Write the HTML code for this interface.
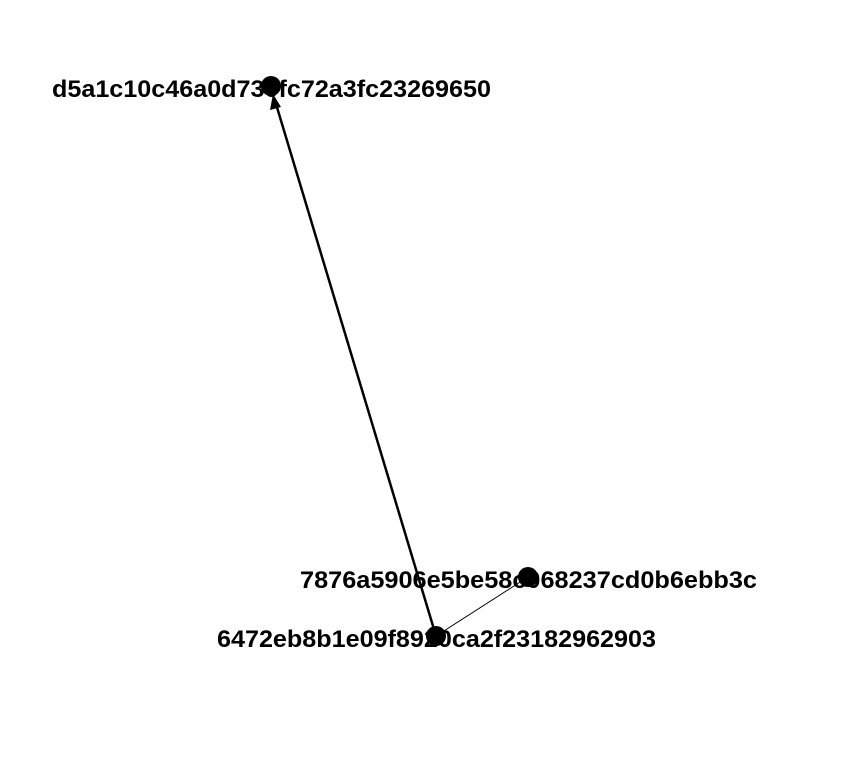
<!DOCTYPE html>
<html><head><style>body{margin:0;background:#fff}svg{display:block}</style></head>
<body>
<svg width="854" height="768" xmlns="http://www.w3.org/2000/svg">
<rect width="854" height="768" fill="#fff"/>
<line x1="436" y1="636" x2="276" y2="104" stroke="#000" stroke-width="2.5"/>
<polygon points="273,94 270,110 281,107" fill="#000"/>
<line x1="436" y1="636" x2="528" y2="577" stroke="#000" stroke-width="1"/>
<g font-family="Liberation Sans, Arial, sans-serif" font-weight="bold" font-size="24" fill="#000">
<text x="52" y="97" textLength="439" lengthAdjust="spacingAndGlyphs">d5a1c10c46a0d730fc72a3fc23269650</text>
<text x="300" y="588" textLength="457" lengthAdjust="spacingAndGlyphs">7876a5906e5be58c068237cd0b6ebb3c</text>
<text x="217" y="647" textLength="439" lengthAdjust="spacingAndGlyphs">6472eb8b1e09f8920ca2f23182962903</text>
</g>
<circle cx="271" cy="86" r="10" fill="#000"/>
<circle cx="528" cy="577" r="10" fill="#000"/>
<circle cx="436" cy="636" r="10" fill="#000"/>
</svg>
</body></html>
